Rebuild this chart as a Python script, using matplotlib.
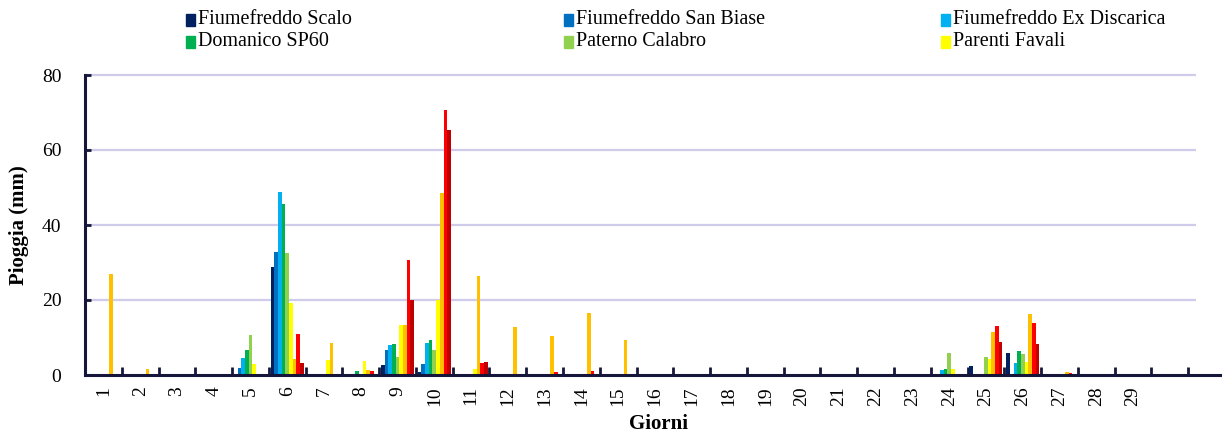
import numpy as np
import matplotlib
matplotlib.use("Agg")
import matplotlib.pyplot as plt
from matplotlib.patches import Rectangle

plt.rcParams['font.family'] = ['Liberation Serif', 'DejaVu Serif']

# days 1..30 (label for day 30 is left empty, as in the original)
days = list(range(1, 31))
day_labels = [str(d) for d in range(1, 30)] + [""]


def series(vals):
    out = [0.0] * 30
    for d, v in vals.items():
        out[d - 1] = v
    return out


# rain (mm) per station
scalo = series({5: 0.3, 6: 28.9, 9: 2.8, 10: 0.8, 25: 2.3, 26: 5.8})
san_biase = series({5: 1.8, 6: 32.9, 9: 6.7, 10: 3.0})
ex_discarica = series({5: 4.5, 6: 48.7, 9: 8.0, 10: 8.6, 24: 1.3, 26: 3.2})
domanico = series({5: 6.7, 6: 45.7, 8: 1.0, 9: 8.3, 10: 9.4, 11: 0.2, 24: 1.6, 26: 6.4, 27: 0.2})
paterno = series({5: 10.6, 6: 32.5, 9: 4.8, 10: 6.7, 24: 5.8, 25: 4.8, 26: 5.6})
parenti = series({5: 2.9, 6: 19.2, 7: 4.0, 8: 3.7, 9: 13.3, 10: 20.0, 11: 1.6,
                  24: 1.5, 25: 4.3, 26: 3.6, 27: 0.4})
# the three stations below have their legend entries cut off in the original
stat7 = series({1: 26.9, 2: 1.6, 6: 4.2, 7: 8.6, 8: 1.3, 9: 13.3, 10: 48.6, 11: 26.5,
                12: 12.9, 13: 10.4, 14: 16.5, 15: 9.3, 25: 11.5, 26: 16.4, 27: 0.9})
stat8 = series({6: 10.9, 8: 1.0, 9: 30.7, 10: 70.7, 11: 3.2, 13: 0.9, 14: 1.1,
                25: 13.1, 26: 13.9, 27: 0.5})
stat9 = series({6: 3.2, 9: 20.0, 10: 65.3, 11: 3.4, 12: 0.2, 14: 0.3,
                25: 8.9, 26: 8.3, 27: 0.4})

names = ["Fiumefreddo Scalo", "Fiumefreddo San Biase", "Fiumefreddo Ex Discarica",
         "Domanico SP60", "Paterno Calabro", "Parenti Favali", None, None, None]
all_series = [scalo, san_biase, ex_discarica, domanico, paterno, parenti, stat7, stat8, stat9]
colors = ["#002060", "#0070C0", "#00B0F0", "#00B050", "#92D050",
          "#FFFF00", "#FFC000", "#FF0000", "#C00000"]

W, H = 1222, 432
fig = plt.figure(figsize=(W / 100, H / 100), dpi=100)
ax = fig.add_axes([85 / W, (H - 375) / H, (W - 85) / W, 300 / H])

x = np.array(days)
bw = 0.1
for k, (vals, c) in enumerate(zip(all_series, colors)):
    ax.bar(x + (k - 4) * bw, vals, width=bw, color=c, edgecolor='none', zorder=3)

ax.set_xlim(0.5, 31.42)
ax.set_ylim(0, 80)

# horizontal gridlines
for yv in [20, 40, 60, 80]:
    ax.hlines(yv, 0.5, 30.7, color="#CFCBEA", lw=1.6, zorder=1, clip_on=False)

axis_col = "#16163A"
for s in ["top", "right"]:
    ax.spines[s].set_visible(False)
for s in ["left", "bottom"]:
    ax.spines[s].set_color(axis_col)
    ax.spines[s].set_linewidth(2.2)
    ax.spines[s].set_zorder(4)

ax.set_yticks([0, 20, 40, 60, 80])
ax.tick_params(axis='y', direction='in', length=4, width=2, color=axis_col,
               labelsize=14, pad=17)

# major ticks on day boundaries, labels on day centres
ax.set_xticks(np.arange(1.5, 31, 1.0))
ax.set_xticklabels([])
ax.tick_params(axis='x', which='major', direction='in', length=6, width=2, color=axis_col)
ax.set_xticks(x, minor=True)
ax.set_xticklabels(day_labels, minor=True, rotation=90)
ax.tick_params(axis='x', which='minor', length=0, labelsize=14, pad=8)

fig.text(19 / W, 1 - 225 / H, "Pioggia (mm)", rotation=90, ha='center', va='center',
         fontsize=15, fontweight='bold')
fig.text(658 / W, 1 - 424 / H, "Giorni", ha='center', va='center',
         fontsize=15, fontweight='bold')

# legend laid out in fixed-width columns like the original
for i, (nm, c) in enumerate(zip(names, colors)):
    if nm is None:
        continue
    col, row = i % 3, i // 3
    x0 = 186 + col * 377.5
    yc = 20 + row * 22
    fig.patches.append(Rectangle((x0 / W, 1 - (yc + 6) / H), 9 / W, 12 / H,
                                 transform=fig.transFigure, color=c))
    fig.text((x0 + 12) / W, 1 - yc / H, nm, ha='left', va='center', fontsize=14.5)

fig.savefig("out.png", dpi=100)
